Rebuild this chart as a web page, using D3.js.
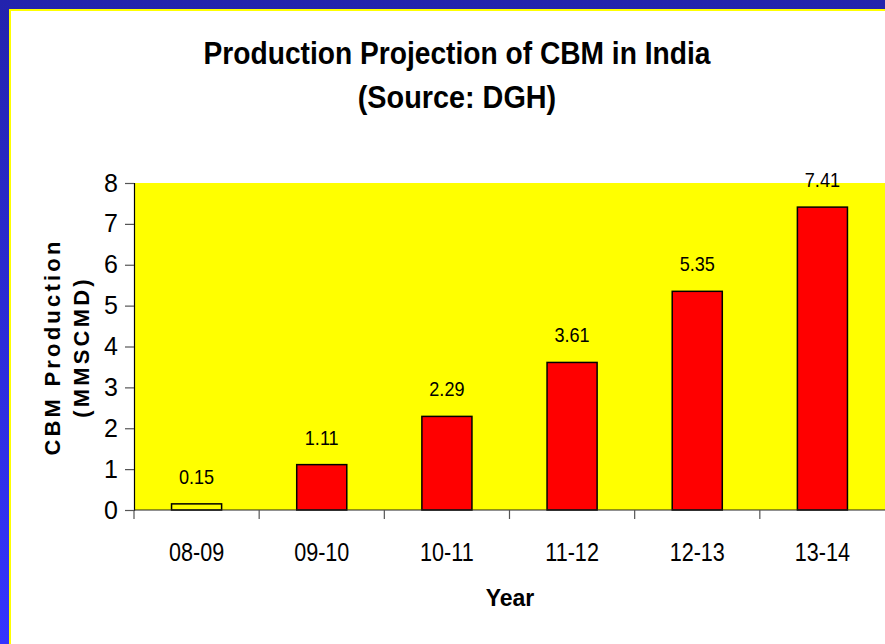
<!DOCTYPE html>
<html>
<head>
<meta charset="utf-8">
<script src="https://cdn.jsdelivr.net/npm/d3@7"></script>
<style>
  html, body { margin: 0; padding: 0; background: #fff; }
  svg { display: block; }
  text { font-family: "Liberation Sans", Arial, sans-serif; }
</style>
</head>
<body>
<svg id="chart" width="885" height="644"></svg>
<script>
// data
var years = ["08-09", "09-10", "10-11", "11-12", "12-13", "13-14"];
var production = [0.15, 1.11, 2.29, 3.61, 5.35, 7.41];
var barColors = ["#ffff00", "#ff0000", "#ff0000", "#ff0000", "#ff0000", "#ff0000"];
var yTicks = [0, 1, 2, 3, 4, 5, 6, 7, 8];

var W = 885, H = 644;
var plot = { left: 134, top: 183, right: 885, bottom: 510 };

var svg = d3.select("#chart");

// squeeze text horizontally, the original uses a narrow face
function narrow(sel, factor) {
    sel.each(function() {
        var len = this.getComputedTextLength();
        d3.select(this)
            .attr("textLength", len * factor)
            .attr("lengthAdjust", "spacingAndGlyphs");
    });
}

// blue slide frame
var grad = svg.append("defs").append("linearGradient")
    .attr("id", "frame").attr("x1", 0).attr("y1", 0).attr("x2", 0).attr("y2", 1);
grad.append("stop").attr("offset", "0%").attr("stop-color", "#2323ad");
grad.append("stop").attr("offset", "100%").attr("stop-color", "#3434ff");

svg.append("rect").attr("width", W).attr("height", H).attr("fill", "url(#frame)");
svg.append("rect").attr("x", 9).attr("y", 9).attr("width", W - 9).attr("height", H - 9).attr("fill", "#ffff00");
svg.append("rect").attr("x", 11).attr("y", 11).attr("width", W - 11).attr("height", H - 11).attr("fill", "#ffffff");

// scales
var x = d3.scaleBand().domain(years).range([plot.left, plot.right]).paddingInner(0).paddingOuter(0);
var y = d3.scaleLinear().domain([0, 8]).range([plot.bottom, plot.top]);

// plot area
svg.append("rect")
    .attr("x", plot.left).attr("y", plot.top)
    .attr("width", plot.right - plot.left).attr("height", plot.bottom - plot.top)
    .attr("fill", "#ffff00");

// bars
var barW = x.bandwidth() * 0.4;
svg.selectAll(".bar")
    .data(production)
    .enter()
    .append("rect")
    .attr("class", "bar")
    .attr("x", function(d, i) { return x(years[i]) + (x.bandwidth() - barW) / 2; })
    .attr("y", function(d) { return y(d); })
    .attr("width", barW)
    .attr("height", function(d) { return y(0) - y(d); })
    .attr("fill", function(d, i) { return barColors[i]; })
    .attr("stroke", "#000")
    .attr("stroke-width", 1.5);

// value labels
var vals = svg.selectAll(".val")
    .data(production)
    .enter()
    .append("text")
    .attr("class", "val")
    .attr("x", function(d, i) { return x(years[i]) + x.bandwidth() / 2; })
    .attr("y", function(d) { return y(d) - 20; })
    .attr("text-anchor", "middle")
    .attr("font-size", 21)
    .attr("fill", "#000")
    .text(function(d) { return d.toFixed(2); });
narrow(vals, 0.86);

// y axis
var yAxis = svg.append("g")
    .attr("transform", "translate(" + plot.left + ",0)")
    .call(d3.axisLeft(y).tickValues(yTicks).tickSize(9).tickPadding(7).tickFormat(d3.format("d")));
yAxis.select(".domain").attr("stroke", "#000").attr("stroke-width", 1.2);
yAxis.selectAll(".tick line").attr("stroke", "#555").attr("stroke-width", 1.2);
yAxis.selectAll("text").attr("font-family", "Liberation Sans, Arial, sans-serif").attr("font-size", 25).attr("fill", "#000");

// x axis: ticks on category boundaries
var xAxis = svg.append("g")
    .attr("transform", "translate(0," + plot.bottom + ")")
    .call(d3.axisBottom(x).tickSize(0).tickPadding(33));
xAxis.select(".domain").remove();
xAxis.selectAll("text").attr("font-family", "Liberation Sans, Arial, sans-serif").attr("font-size", 26).attr("fill", "#000");
narrow(xAxis.selectAll("text"), 0.83);
svg.append("line")
    .attr("x1", plot.left).attr("x2", plot.right)
    .attr("y1", plot.bottom).attr("y2", plot.bottom)
    .attr("stroke", "#222").attr("stroke-width", 1.2);
svg.selectAll(".xtick")
    .data(years)
    .enter()
    .append("line")
    .attr("class", "xtick")
    .attr("x1", function(d) { return x(d); })
    .attr("x2", function(d) { return x(d); })
    .attr("y1", plot.bottom)
    .attr("y2", plot.bottom + 9)
    .attr("stroke", "#555").attr("stroke-width", 1.2);

// titles
var t1 = svg.append("text")
    .attr("x", 457).attr("y", 64)
    .attr("text-anchor", "middle")
    .attr("font-size", 32).attr("font-weight", "bold")
    .text("Production Projection of CBM in India");
var t2 = svg.append("text")
    .attr("x", 457).attr("y", 108)
    .attr("text-anchor", "middle")
    .attr("font-size", 32).attr("font-weight", "bold")
    .text("(Source: DGH)");
narrow(t1, 0.88);
narrow(t2, 0.9);

svg.append("text")
    .attr("x", 510).attr("y", 606)
    .attr("text-anchor", "middle")
    .attr("font-size", 23).attr("font-weight", "bold")
    .text("Year");

var yt = svg.append("text")
    .attr("transform", "translate(0,347) rotate(-90)")
    .attr("text-anchor", "middle")
    .attr("font-size", 22).attr("font-weight", "bold")
    .attr("letter-spacing", 3.2);
yt.append("tspan").attr("x", 0).attr("y", 60).text("CBM Production");
yt.append("tspan").attr("x", 0).attr("y", 89).text("(MMSCMD)");
</script>
</body>
</html>
